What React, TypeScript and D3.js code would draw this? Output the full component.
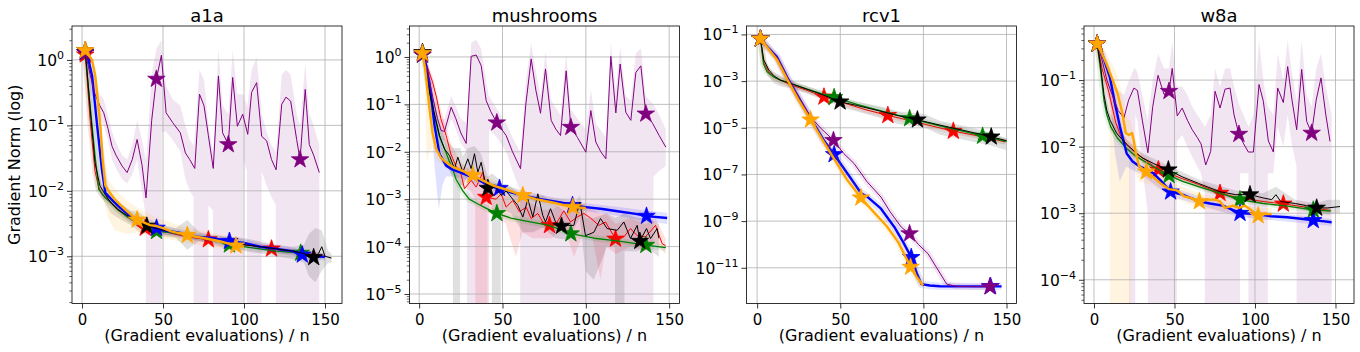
import React, { useEffect, useRef } from "react";
import * as d3 from "d3";

// rows: [x, mean]  bands: [x, lower, upper]  stars: x positions of markers
const FLOOR = 1e-20; // band drops below the visible axis

const panelTitles = ["a1a", "mushrooms", "rcv1", "w8a"];
const xDomains = [[-6.2, 160.5], [-5.8, 156.2], [-6.4, 156], [-6.2, 161.5]];
const yDomains = [[1.9e-4, 3.3], [6.3e-6, 4.5], [2.95e-13, 0.23], [4.4e-5, 0.65]];
const yTickExps = [[0, -1, -2, -3], [0, -1, -2, -3, -4, -5], [-1, -3, -5, -7, -9, -11], [-1, -2, -3, -4]];
const yMinorTicks = [true, true, false, true];
const xTickValues = [0, 50, 100, 150];

// ---------- a1a ----------
const a1aBlack = [[2,1.4],[5,0.18],[8,0.027],[11,0.012],[14,0.009],[18,0.0065],[22,0.0052],[26,0.0045],[30,0.0039],[35,0.0034],[40,0.0029],[45,0.0027],[50,0.0025],[55,0.0024],[60,0.0022],[65,0.0021],[70,0.002],[80,0.0018],[90,0.0016],[100,0.0015],[110,0.0014],[120,0.0013],[130,0.0012],[137,0.0011],[140,0.00105],[143,0.00096],[146,0.0011],[148,0.0014],[150,0.001],[154,0.00094]];
const a1aBlackStars = [2, 40, 143];
const a1aBlackBand = [[2,1.2,1.6],[5,0.12,0.25],[8,0.02,0.035],[12,0.008,0.013],[18,0.0045,0.008],[25,0.0035,0.006],[30,0.003,0.005],[35,0.0024,0.0048],[40,0.0022,0.0038],[45,0.0021,0.0034],[50,0.002,0.003],[58,0.0019,0.0027],[65,0.00126,0.0036],[72,0.0017,0.0024],[80,0.0015,0.0021],[90,0.0013,0.002],[100,0.0012,0.0019],[110,0.0011,0.0017],[120,0.001,0.0015],[130,0.0009,0.0014],[137,0.0008,0.0015],[140,0.0005,0.0022],[144,0.0004,0.0027],[148,0.0006,0.0025],[152,0.0008,0.0012],[154,0.0008,0.0011]];
const a1aRed = [[2,1.2],[5,0.12],[8,0.02],[10,0.012],[12.3,0.0088],[16,0.0075],[20,0.006],[25,0.0046],[30,0.0037],[35,0.0031],[39,0.0027],[45,0.0025],[50,0.0024],[60,0.0021],[70,0.0019],[78,0.0018],[90,0.0016],[100,0.0015],[110,0.0014],[117,0.0013],[125,0.0012],[133,0.00115],[140,0.0011],[150,0.001]];
const a1aRedStars = [2, 39, 78, 117];
const a1aGreen = [[2,1.3],[5,0.2],[8,0.035],[10.3,0.0105],[14,0.008],[18,0.0065],[22,0.0052],[28,0.004],[35,0.0032],[40,0.0029],[46,0.0024],[55,0.0023],[65,0.0021],[75,0.0019],[85,0.0017],[91,0.0015],[100,0.0014],[110,0.0013],[120,0.0012],[130,0.00115],[135,0.00112],[142,0.00105],[148,0.001]];
const a1aGreenStars = [2, 46, 91, 135];
const a1aBlue = [[2,1.3],[4,1.0],[6.2,0.57],[9.3,0.1],[12.3,0.021],[14.4,0.0093],[18,0.0075],[22,0.006],[26,0.0049],[30,0.0041],[35,0.0035],[40,0.003],[46,0.0027],[50,0.0025],[60,0.0023],[70,0.002],[80,0.0019],[91,0.0017],[100,0.0016],[110,0.0014],[120,0.0013],[130,0.0012],[136,0.00105],[142,0.001],[150,0.00098]];
const a1aBlueStars = [2, 46, 91, 136];
const a1aOrange = [[2,1.4],[4,1.2],[6.2,1.0],[8.2,0.57],[10.3,0.18],[11.3,0.1],[12.7,0.03],[14.4,0.012],[17,0.0095],[20,0.0075],[24,0.006],[28,0.0048],[34,0.0036],[38,0.0033],[42,0.003],[46,0.0029],[50,0.0027],[55,0.0024],[65,0.0021],[75,0.0019],[85,0.0017],[95,0.00145],[100,0.0014]];
const a1aOrangeStars = [2, 34, 65, 95];
const a1aOrangeBand = [[2,1.2,1.6],[8,0.3,0.8],[11,0.04,0.2],[13,0.008,0.05],[16,0.004,0.015],[20,0.0025,0.011],[28,0.0022,0.007],[34,0.0023,0.0055],[45,0.002,0.004],[65,0.0016,0.0027],[85,0.0013,0.0022],[100,0.0011,0.0018]];
const a1aPurple = [[2,1.3],[5,0.6],[8,0.3],[11,0.2],[13.4,0.156],[16,0.09],[18.5,0.048],[21,0.035],[24.7,0.024],[27.8,0.019],[31,0.03],[34,0.061],[37,0.025],[39.5,0.0078],[43,0.12],[45.9,0.51],[49,1.18],[51.9,0.156],[56,0.11],[60.7,0.077],[63.8,0.038],[66.5,0.03],[69.6,0.022],[72.5,0.3],[75.3,0.2],[78,0.07],[81,0.022],[84.2,0.57],[86.8,0.077],[90.3,0.051],[93,0.54],[95.9,0.097],[99.2,0.148],[102.3,0.073],[104.7,0.32],[107.8,0.45],[110.9,0.068],[114,0.058],[117,0.03],[119.8,0.021],[123.3,0.21],[125.9,0.27],[128.8,0.235],[132.5,0.061],[134.6,0.03],[137.8,0.355],[140.3,0.051],[143,0.035],[146.5,0.019]];
const a1aPurpleStars = [2, 45.9, 90.3, 134.6];
const a1aPurpleBand = [[2,1.1,1.7],[5,0.4,0.9],[8,0.2,0.45],[11,0.13,0.3],[13.4,0.1,0.25],[16,0.06,0.14],[18.5,0.03,0.08],[21,0.022,0.055],[24.7,0.015,0.035],[27.8,0.013,0.03],[31,0.018,0.05],[34,0.03,0.12],[37,0.01,0.06],[39.4,0.004,0.03],[39.6,FLOOR,0.03],[43,FLOOR,0.6],[45.9,FLOOR,1.5],[49,FLOOR,2.0],[49.2,0.08,1.5],[51.9,0.08,0.4],[56,0.06,0.25],[60.7,0.04,0.2],[63.8,0.015,0.1],[66.5,0.01,0.06],[68.9,0.008,0.05],[69.1,FLOOR,0.05],[72.5,FLOOR,0.7],[75.3,FLOOR,0.5],[77.8,FLOOR,0.12],[78,0.006,0.1],[80.8,0.005,0.04],[81,FLOOR,0.04],[84.2,FLOOR,1.5],[86.8,FLOOR,0.2],[90.3,FLOOR,0.15],[93,FLOOR,1.4],[95.9,FLOOR,0.3],[99.2,FLOOR,0.3],[99.6,0.03,0.3],[101.8,0.02,0.2],[102,FLOOR,0.2],[104.7,FLOOR,0.7],[107.8,FLOOR,1.1],[110.6,FLOOR,0.2],[110.9,0.02,0.15],[114,0.012,0.08],[117,0.008,0.05],[119.6,0.006,0.04],[119.8,FLOOR,0.04],[123.3,FLOOR,0.6],[125.9,FLOOR,0.7],[128.8,FLOOR,0.6],[132.5,FLOOR,0.15],[134.6,FLOOR,0.1],[137.8,FLOOR,0.9],[140.3,FLOOR,0.15],[143,FLOOR,0.1],[146.5,FLOOR,0.05]];

// ---------- mushrooms ----------
const mushBlack = [[2,1.25],[6.2,0.18],[12.2,0.022],[15.2,0.0114],[18.2,0.0083],[21.2,0.0044],[23.2,0.0077],[26.2,0.0037],[29.2,0.0071],[31.2,0.0044],[33.2,0.0091],[35.2,0.0037],[37.2,0.006],[39.8,0.0021],[41.2,0.0017],[45.2,0.002],[49.2,0.0012],[52.2,0.0015],[55.2,0.0011],[59.2,0.00074],[62.2,0.00042],[65.2,0.001],[68.2,0.00042],[71.2,0.0013],[74.2,0.00045],[75.8,0.00033],[78.8,0.00063],[81.8,0.00033],[85.4,0.00027],[88.8,0.00028],[92.8,0.00028],[96.4,0.00087],[99.8,0.00017],[104.8,0.0002],[108.8,0.00039],[112.8,0.00024],[118.8,0.00022],[122.8,0.00033],[126.8,0.000148],[130.8,0.00028],[132.4,0.00013],[136.4,0.00024],[138.8,0.000148],[142.8,0.00024],[143.8,0.00015]];
const mushBlackStars = [2, 41.2, 85.4, 132.4];
const mushBlackBand = [[2,1.0,1.5],[6.2,0.1,0.3],[12.2,0.012,0.04],[15.2,0.006,0.02],[18.2,0.004,0.015],[20.2,0.003,0.012],[20.4,FLOOR,0.012],[24.4,FLOOR,0.012],[24.6,0.002,0.012],[26.2,0.002,0.008],[29.2,0.003,0.012],[33.2,0.004,0.013],[37.2,0.003,0.009],[41.2,0.0008,0.003],[43.6,0.0008,0.0035],[43.8,FLOOR,0.0035],[48.8,FLOOR,0.0025],[49,0.0006,0.0022],[55.2,0.0005,0.0018],[62.2,0.0002,0.0012],[68.2,0.0002,0.0012],[74.2,0.00025,0.0012],[81.8,0.00015,0.0008],[88.8,0.00014,0.0005],[96.4,0.0004,0.0012],[99.8,0.00003,0.0004],[104.8,0.00002,0.0004],[112.8,0.0001,0.0005],[117.5,0.0001,0.0004],[117.7,FLOOR,0.0004],[123,FLOOR,0.0005],[123.2,0.00008,0.0005],[130.8,0.00008,0.0004],[136.4,0.0001,0.0004],[143.8,0.00006,0.0003]];
const mushRed = [[2,1.2],[5,0.6],[8,0.3],[10.2,0.15],[13,0.05],[16.2,0.022],[19,0.009],[22,0.005],[25,0.0035],[27.2,0.00166],[31.2,0.0025],[34.2,0.0018],[38.2,0.0037],[40.2,0.0011],[46.2,0.001],[49.2,0.0013],[52.2,0.00068],[56.2,0.00094],[60.2,0.00054],[64.2,0.00068],[67.2,0.00039],[71.2,0.0005],[74.2,0.00033],[78.2,0.00028],[82.8,0.00033],[86.8,0.00057],[90.8,0.00033],[94.8,0.00042],[98.8,0.0005],[102.8,0.0004],[107.8,0.00028],[111.8,0.00033],[117.8,0.000145],[122.8,0.00016],[126.8,0.00024],[130.8,0.00017],[135.8,0.00016],[141.8,0.00028],[145.8,0.000115],[147.8,0.000105]];
const mushRedStars = [2, 40.2, 78.2, 117.8];
const mushRedBand = [[2,1.0,1.4],[8,0.2,0.4],[13,0.03,0.08],[19,0.005,0.015],[25,0.002,0.006],[31,0.0015,0.004],[33.6,0.001,0.004],[33.8,FLOOR,0.004],[40.8,FLOOR,0.003],[41,0.0006,0.0025],[46,0.0005,0.0018],[52,0.0003,0.0012],[58,0.00006,0.0012],[62,0.0002,0.001],[68,0.00015,0.0008],[74,0.00015,0.0006],[80,0.00015,0.0006],[86.8,0.0003,0.0009],[92.8,0.00006,0.0006],[98.8,0.0002,0.0008],[104,0.00015,0.0006],[108.8,0.00002,0.0005],[112,0.0001,0.0005],[118,0.00007,0.0003],[126.8,0.0001,0.0004],[135.8,0.00008,0.0003],[141.8,0.00012,0.0004],[147.8,0.00007,0.00015]];
const mushGreen = [[2,1.1],[4,0.5],[6.2,0.18],[9,0.06],[12,0.022],[15,0.012],[18,0.0065],[20.2,0.0042],[22.2,0.0026],[26.2,0.0015],[30,0.001],[35,0.0008],[40,0.00065],[46.6,0.0005],[55,0.0004],[65,0.00034],[78,0.00028],[91,0.000187],[105,0.00015],[120,0.00013],[136,0.000107],[148,0.000095]];
const mushGreenStars = [2, 46.6, 91, 136];
const mushBlue = [[2,1.2],[4,0.7],[6,0.3],[7.5,0.12],[9.2,0.036],[12.2,0.009],[16.2,0.0051],[20,0.0042],[24.2,0.0037],[28,0.0033],[32,0.0029],[36,0.0025],[40,0.0021],[44,0.0019],[48.2,0.0017],[55,0.0014],[62,0.0012],[72.8,0.001],[85,0.00085],[92,0.00074],[100,0.00068],[110,0.00062],[120,0.00055],[130,0.00049],[136.4,0.00044],[148.8,0.0004]];
const mushBlueStars = [2, 48.2, 92, 136.4];
const mushBlueBand = [[2,1.0,1.4],[4,0.5,0.9],[6,0.15,0.5],[7.5,0.04,0.3],[9.2,0.005,0.1],[11.8,0.0006,0.03],[14,0.002,0.012],[16.2,0.003,0.008],[20,0.003,0.0055],[28,0.0026,0.004],[40,0.0017,0.0026],[48,0.0014,0.0021],[62,0.001,0.0015],[80,0.0008,0.0011],[100,0.00056,0.00082],[120,0.00044,0.00068],[136,0.00034,0.00058],[148.8,0.0003,0.00052]];
const mushOrange = [[2,1.2],[3.5,0.6],[5,0.2],[6.2,0.08],[8,0.025],[10.2,0.0116],[13,0.0075],[16.2,0.006],[20,0.0048],[25,0.0041],[32.2,0.0032],[38,0.0025],[45,0.0019],[52,0.0016],[62.2,0.0012],[70,0.001],[80,0.00085],[92.2,0.00068],[100,0.00065]];
const mushOrangeStars = [2, 32.2, 62.2, 92.2];
const mushOrangeBand = [[2,1.0,1.4],[3.5,0.3,0.9],[4.4,0.006,0.6],[6.2,0.01,0.3],[8,0.012,0.06],[10.2,0.007,0.02],[16,0.0045,0.008],[32,0.0027,0.0038],[62,0.001,0.0015],[92,0.00055,0.00085],[100,0.00052,0.0008]];
const mushPurple = [[2,1.1],[5,0.5],[8.2,0.14],[11,0.05],[13.2,0.028],[15.2,0.027],[19.2,0.087],[22,0.05],[25,0.025],[28.2,0.015],[31.2,1.03],[34.2,1.1],[37.2,0.66],[40.2,0.12],[43,0.07],[46.6,0.041],[52.2,0.022],[56,0.01],[60.8,0.0044],[64,0.1],[67.2,0.91],[70,0.2],[72.8,0.065],[75.8,0.56],[79.2,0.046],[82,0.03],[84.8,0.022],[88.2,0.51],[91,0.033],[95,0.02],[100,0.0098],[103,0.074],[106,0.016],[109,0.01],[112,0.0071],[115,1.03],[118,0.066],[120.6,0.71],[124,0.068],[127,0.046],[130,0.47],[133,0.65],[136,0.063],[140,0.04],[144,0.022],[148,0.0125]];
const mushPurpleStars = [2, 46.6, 91, 136];
const mushPurpleBand = [[2,0.8,1.5],[5,0.3,0.8],[8.2,0.08,0.25],[11,0.03,0.09],[13.2,0.018,0.05],[15.2,0.017,0.05],[19.2,0.05,0.15],[22,0.03,0.09],[25,0.015,0.05],[28.6,0.01,0.04],[28.8,FLOOR,0.05],[31.2,FLOOR,2.0],[34.2,FLOOR,2.3],[37.2,FLOOR,1.5],[40.2,FLOOR,0.3],[41.8,FLOOR,0.15],[42,0.03,0.15],[46.6,0.02,0.08],[52.2,0.01,0.04],[56,0.004,0.02],[60.6,0.0015,0.01],[60.8,FLOOR,0.01],[64,FLOOR,0.3],[67.2,FLOOR,2.0],[70,FLOOR,0.5],[72.8,FLOOR,0.15],[75.8,FLOOR,1.3],[79.2,FLOOR,0.12],[84.8,FLOOR,0.06],[88.2,FLOOR,1.2],[91,FLOOR,0.08],[95,FLOOR,0.05],[100,FLOOR,0.03],[103,FLOOR,0.2],[106,FLOOR,0.04],[112,FLOOR,0.02],[115,FLOOR,2.0],[118,FLOOR,0.2],[120.6,FLOOR,1.6],[124,FLOOR,0.15],[127,FLOOR,0.12],[130,FLOOR,1.2],[133,FLOOR,1.5],[136,FLOOR,0.15],[140.4,FLOOR,0.1],[140.6,0.003,0.1],[144,0.004,0.06],[148,0.005,0.03]];

// ---------- rcv1 ----------
const rcvBlack = [[2,0.065],[4,0.008],[7,0.003],[10,0.0017],[14,0.0011],[20,0.0008],[30,0.00045],[40,0.00025],[49.9,0.00013],[60,0.00009],[75,0.00005],[85,0.000033],[96.4,0.000022],[110,0.000013],[125,0.0000075],[140.8,0.0000041],[150,0.0000028]];
const rcvBlackStars = [2, 49.9, 96.4, 140.8];
const rcvBlackBand = [[2,0.05,0.08],[4,0.004,0.012],[7,0.0015,0.004],[10,0.0008,0.0025],[14,0.0006,0.0017],[20,0.0005,0.0011],[30,0.0003,0.0006],[40,0.00016,0.00035],[50,0.00008,0.0002],[60,0.00005,0.00013],[75,0.000025,0.00008],[85,0.000014,0.00005],[100,0.0000107,0.00004],[110,0.000005,0.00002],[125,0.000003,0.000012],[140,0.0000018,0.0000065],[150,0.0000011,0.0000035]];
const rcvRed = [[2,0.065],[4,0.006],[6.9,0.0025],[10,0.0015],[13.9,0.0011],[20,0.0007],[30,0.0004],[40.2,0.00021],[55,0.0001],[65,0.00006],[78.6,0.000034],[95,0.000018],[105,0.000012],[118,0.0000072],[135,0.0000042],[149.3,0.0000025]];
const rcvRedStars = [2, 40.2, 78.6, 118];
const rcvGreen = [[2,0.065],[3.8,0.0057],[6,0.0025],[9.9,0.0015],[14,0.0011],[20,0.0008],[30,0.00045],[40,0.00027],[46.3,0.0002],[60,0.0001],[75,0.000052],[91.7,0.000025],[110,0.000012],[125,0.0000068],[135.6,0.0000044],[150,0.0000026]];
const rcvGreenStars = [2, 46.3, 91.7, 135.6];
const rcvBlue = [[2,0.065],[6,0.03],[11.9,0.011],[18,0.0015],[26,1.5e-4],[34.1,1.5e-5],[40,3e-6],[46.3,7.2e-7],[54.4,1.07e-7],[62.4,1.6e-8],[66.5,1.07e-8],[74.5,3.4e-9],[82.6,5.5e-10],[88,1.2e-10],[92.7,2.8e-11],[96,6e-12],[98.8,2e-12],[103.8,1.74e-12],[110,1.62e-12],[120,1.6e-12],[130,1.6e-12],[140.4,1.6e-12],[147,1.6e-12]];
const rcvBlueStars = [2, 46.3, 92.7, 140.4];
const rcvOrange = [[2,0.065],[6,0.028],[12,0.008],[18,0.0012],[25,1.5e-4],[32.1,2.2e-5],[40,2.5e-6],[46,5e-7],[54,6e-8],[62.4,1e-8],[70,2.5e-9],[78,6e-10],[85,1.2e-10],[92.3,1.07e-11],[96,4e-12],[99.8,1.74e-12]];
const rcvOrangeStars = [2, 32.1, 62.4, 92.3];
const rcvPurple = [[2,0.065],[6,0.03],[12,0.01],[18,0.0015],[25,2e-4],[32,3e-5],[38,1e-5],[45.9,2.9e-6],[52,8e-7],[58.4,2.9e-7],[66,5e-8],[74.5,1.07e-8],[80,2.5e-9],[86.7,5.5e-10],[91.7,2.9e-10],[97,1e-10],[102.8,4e-11],[108,1e-11],[114,2e-12],[120,1.6e-12],[130,1.55e-12],[140,1.55e-12],[143,1.55e-12]];
const rcvPurpleStars = [2, 45.9, 91.7, 140];

// ---------- w8a ----------
const w8aBlack = [[2,0.35],[4,0.17],[6.2,0.06],[8,0.035],[10,0.025],[14,0.016],[20,0.011],[26.5,0.0079],[30,0.0068],[36.8,0.0056],[46.2,0.0045],[55,0.0035],[65,0.0028],[78.3,0.0021],[88,0.0019],[96.9,0.0019],[105,0.0017],[110.4,0.0016],[113,0.0019],[116,0.0015],[125,0.0014],[132,0.0013],[138.3,0.0012],[145,0.0012],[152.8,0.00126]];
const w8aBlackStars = [2, 46.2, 96.9, 138.3];
const w8aBlackBand = [[2,0.3,0.4],[6.2,0.04,0.08],[10,0.018,0.032],[20,0.009,0.013],[30,0.0058,0.008],[46,0.0038,0.0052],[65,0.0024,0.0032],[88,0.0016,0.0022],[105,0.0014,0.002],[113,0.0015,0.0025],[125,0.0012,0.0016],[138,0.001,0.0014],[145,0.00095,0.0016],[152.8,0.001,0.0016]];
const w8aRed = [[2,0.35],[5,0.15],[9.3,0.065],[13.5,0.023],[16.6,0.0145],[20,0.011],[26,0.008],[32,0.0063],[40,0.0045],[46,0.004],[55,0.0033],[65,0.0027],[78.3,0.002],[90,0.0017],[105,0.0015],[117.6,0.00138],[130,0.00125],[140,0.00116],[147,0.0011]];
const w8aRedStars = [2, 40, 78.3, 117.6];
const w8aGreen = [[2,0.35],[4,0.15],[6.2,0.05],[8,0.03],[10.4,0.02],[14.5,0.0135],[20,0.0095],[26,0.0072],[35,0.0053],[46.6,0.0037],[55,0.003],[65,0.0025],[78,0.002],[90.7,0.0016],[105,0.0014],[120,0.00128],[136.2,0.00112],[147,0.00108]];
const w8aGreenStars = [2, 46.6, 90.7, 136.2];
const w8aBlue = [[2,0.35],[5,0.25],[7,0.18],[9.9,0.11],[13,0.045],[16.1,0.02],[20.3,0.0079],[24,0.006],[28.6,0.005],[32,0.0046],[36.8,0.004],[42,0.003],[47.6,0.0021],[55,0.0019],[60,0.0017],[65.8,0.0015],[72,0.0014],[80,0.0013],[90.7,0.001],[100,0.00098],[110,0.0009],[120,0.00087],[130,0.00082],[136.2,0.00078],[142,0.00076],[147.6,0.00073]];
const w8aBlueStars = [2, 47.6, 90.7, 136.2];
const w8aBlueBand = [[2,0.3,0.4],[7,0.12,0.25],[10,0.05,0.15],[13,0.008,0.07],[16,0.003,0.03],[20,0.005,0.011],[28,0.004,0.006],[47.6,0.0018,0.0025],[90,0.00088,0.00115],[147.6,0.00064,0.00082]];
const w8aOrange = [[2,0.35],[5,0.25],[8,0.17],[11,0.11],[14.5,0.065],[17.6,0.032],[19.7,0.016],[21.7,0.015],[23.7,0.016],[24.8,0.012],[25.9,0.0081],[28,0.0051],[32.5,0.0042],[37.3,0.0034],[41.4,0.0028],[46.6,0.0023],[51.7,0.0022],[55.9,0.0018],[60,0.0017],[65.5,0.0015],[70,0.0016],[75.2,0.0016],[78.3,0.0015],[81.4,0.0012],[86.5,0.0013],[90,0.0012],[93.8,0.0013],[98,0.0011],[102,0.00092],[106,0.00097],[110.4,0.00097]];
const w8aOrangeStars = [2, 32.5, 65.5, 102];
const w8aOrangeBand = [[2,0.3,0.4],[5,0.15,0.35],[8,0.08,0.25],[9.8,0.05,0.2],[10,FLOOR,0.2],[14.5,FLOOR,0.12],[17.6,FLOOR,0.06],[19.7,FLOOR,0.03],[22.4,FLOOR,0.025],[22.6,0.006,0.025],[25.9,0.004,0.012],[28,0.003,0.008],[37,0.0026,0.0045],[47,0.0018,0.003],[65,0.0012,0.002],[86,0.001,0.0015],[102,0.0008,0.0012],[110.4,0.0008,0.0012]];
const w8aPurple = [[2,0.35],[5,0.2],[8,0.1],[12.4,0.051],[15,0.035],[18.6,0.027],[21.5,0.05],[24.8,0.076],[27,0.07],[30,0.025],[33.5,0.0081],[36.5,0.04],[39.8,0.118],[43.5,0.061],[46.6,0.068],[48.6,0.15],[51.7,0.029],[54.8,0.038],[58,0.025],[61,0.018],[64.2,0.0137],[66.5,0.011],[69.4,0.0053],[72.5,0.0085],[75.2,0.068],[78.3,0.038],[81.4,0.073],[84.5,0.076],[87,0.03],[90,0.0154],[93,0.011],[95.9,0.0083],[99,0.0083],[102.5,0.086],[105.2,0.048],[108.3,0.0122],[111.4,0.0083],[114.1,0.076],[117.6,0.046],[120.3,0.16],[123,0.05],[125.9,0.018],[129,0.145],[132.1,0.024],[135.2,0.016],[138,0.05],[141,0.108],[144,0.03],[146.6,0.012]];
const w8aPurpleStars = [2, 46.6, 90, 135.2];
const w8aPurpleBand = [[2,0.28,0.45],[5,0.12,0.3],[8,0.06,0.18],[12.4,0.03,0.09],[15,0.015,0.07],[18.6,0.01,0.06],[21.8,0.01,0.1],[22,FLOOR,0.1],[24.8,FLOOR,0.15],[25.5,FLOOR,0.15],[25.7,0.03,0.15],[27,0.025,0.13],[30,0.005,0.06],[33.4,0.001,0.025],[33.6,FLOOR,0.03],[36.5,FLOOR,0.1],[39.8,FLOOR,0.25],[43.5,FLOOR,0.15],[46.6,FLOOR,0.15],[48.6,FLOOR,0.38],[51.3,FLOOR,0.08],[51.5,0.012,0.08],[54.8,0.015,0.08],[58,0.01,0.06],[61,0.007,0.04],[64.2,0.005,0.03],[66.5,0.004,0.025],[68.8,0.002,0.02],[69,FLOOR,0.02],[72.5,FLOOR,0.03],[75.2,FLOOR,0.15],[78.3,FLOOR,0.08],[81.4,FLOOR,0.15],[84.5,FLOOR,0.15],[87,FLOOR,0.08],[90.5,FLOOR,0.04],[90.7,0.004,0.04],[95.9,0.004,0.02],[96.1,FLOOR,0.02],[99,FLOOR,0.03],[102.5,FLOOR,0.4],[105.2,FLOOR,0.1],[107.8,FLOOR,0.04],[108,0.004,0.04],[111.4,0.004,0.03],[114.1,0.02,0.25],[117.6,0.01,0.1],[120.3,0.03,0.4],[122.6,0.012,0.15],[125.8,0.005,0.05],[126,FLOOR,0.05],[129,FLOOR,0.4],[132.1,FLOOR,0.06],[135.2,FLOOR,0.04],[138,FLOOR,0.15],[141,FLOOR,0.25],[144,FLOOR,0.08],[147.6,FLOOR,0.03]];

// ---------- assembly ----------
const panelData = [
  {
    lines: { black: a1aBlack, red: a1aRed, green: a1aGreen, blue: a1aBlue, orange: a1aOrange, purple: a1aPurple },
    stars: { black: a1aBlackStars, red: a1aRedStars, green: a1aGreenStars, blue: a1aBlueStars, orange: a1aOrangeStars, purple: a1aPurpleStars },
    bands: { black: a1aBlackBand, orange: a1aOrangeBand, purple: a1aPurpleBand },
  },
  {
    lines: { black: mushBlack, red: mushRed, green: mushGreen, blue: mushBlue, orange: mushOrange, purple: mushPurple },
    stars: { black: mushBlackStars, red: mushRedStars, green: mushGreenStars, blue: mushBlueStars, orange: mushOrangeStars, purple: mushPurpleStars },
    bands: { black: mushBlackBand, red: mushRedBand, blue: mushBlueBand, orange: mushOrangeBand, purple: mushPurpleBand },
  },
  {
    lines: { black: rcvBlack, red: rcvRed, green: rcvGreen, blue: rcvBlue, orange: rcvOrange, purple: rcvPurple },
    stars: { black: rcvBlackStars, red: rcvRedStars, green: rcvGreenStars, blue: rcvBlueStars, orange: rcvOrangeStars, purple: rcvPurpleStars },
    bands: { black: rcvBlackBand },
  },
  {
    lines: { black: w8aBlack, red: w8aRed, green: w8aGreen, blue: w8aBlue, orange: w8aOrange, purple: w8aPurple },
    stars: { black: w8aBlackStars, red: w8aRedStars, green: w8aGreenStars, blue: w8aBlueStars, orange: w8aOrangeStars, purple: w8aPurpleStars },
    bands: { black: w8aBlackBand, blue: w8aBlueBand, orange: w8aOrangeBand, purple: w8aPurpleBand },
  },
];

const DRAW_ORDER = ["red", "green", "blue", "black", "purple", "orange"];
const LINE_W: any = { black: 1, red: 1, green: 1.3, blue: 2.4, orange: 2.4, purple: 1 };

const PANEL_LEFT = [72, 409.5, 746.5, 1084];
const PANEL_W = 270;
const PANEL_TOP = 26;
const PANEL_BOTTOM = 303.5;

function App() {
  const ref = useRef<SVGSVGElement>(null);

  useEffect(() => {
    const svg = d3.select(ref.current);
    svg.selectAll("*").remove();

    panelData.forEach((p: any, i) => {
      const left = PANEL_LEFT[i];
      const right = left + PANEL_W;
      const x = d3.scaleLinear().domain(xDomains[i]).range([left, right]);
      const y = d3.scaleLog().domain(yDomains[i]).range([PANEL_BOTTOM, PANEL_TOP]);
      const g = svg.append("g");

      g.append("clipPath").attr("id", "clip" + i)
        .append("rect").attr("x", left).attr("y", PANEL_TOP)
        .attr("width", PANEL_W).attr("height", PANEL_BOTTOM - PANEL_TOP);
      const plot = g.append("g").attr("clip-path", `url(#clip${i})`);

      // shaded bands (std) under everything
      const area = d3.area<any>().x(d => x(d[0])).y0(d => y(d[1])).y1(d => y(d[2]));
      DRAW_ORDER.forEach(c => {
        const band = p.bands[c];
        if (!band) return;
        plot.append("path").attr("d", area(band))
          .attr("fill", c).attr("fill-opacity", c === "purple" ? 0.1 : 0.12).attr("stroke", "none");
      });

      // grid
      const majors = yTickExps[i].map(e => Math.pow(10, e));
      plot.selectAll(".gx").data(xTickValues).join("line")
        .attr("x1", d => x(d)).attr("x2", d => x(d))
        .attr("y1", PANEL_TOP).attr("y2", PANEL_BOTTOM)
        .attr("stroke", "#b0b0b0").attr("stroke-width", 0.8);
      plot.selectAll(".gy").data(majors).join("line")
        .attr("x1", left).attr("x2", right)
        .attr("y1", d => y(d)).attr("y2", d => y(d))
        .attr("stroke", "#b0b0b0").attr("stroke-width", 0.8);

      // lines, soft halo, star markers
      const line = d3.line<any>().x(d => x(d[0])).y(d => y(d[1]));
      const star = d3.symbol().type(d3.symbolStar).size(95);
      DRAW_ORDER.forEach(c => {
        const rows = p.lines[c];
        if (!p.bands[c]) {
          plot.append("path").attr("d", line(rows)).attr("fill", "none")
            .attr("stroke", c).attr("stroke-opacity", 0.1)
            .attr("stroke-width", LINE_W[c] + 5).attr("stroke-linejoin", "round");
        }
        plot.append("path").attr("d", line(rows)).attr("fill", "none")
          .attr("stroke", c).attr("stroke-width", LINE_W[c]).attr("stroke-linejoin", "round");
        const pts = p.stars[c].map((sx: number) => d3.least(rows, (r: any) => Math.abs(r[0] - sx)));
        plot.selectAll(null).data(pts).join("path")
          .attr("d", star())
          .attr("transform", (d: any) => `translate(${x(d[0])},${y(d[1])})`)
          .attr("fill", c).attr("stroke", c).attr("stroke-width", 0.8);
      });

      // x axis
      const xAxis = d3.axisBottom(x).tickValues(xTickValues).tickSize(5).tickPadding(5.5).tickFormat(d3.format("d"));
      const gx = g.append("g").attr("transform", `translate(0,${PANEL_BOTTOM})`).call(xAxis);
      gx.select(".domain").remove();
      gx.selectAll("text").attr("font-size", 15).attr("font-family", "DejaVu Sans").attr("fill", "#000");
      gx.selectAll("line").attr("stroke", "#000").attr("stroke-width", 0.8);

      // y axis, major
      const yAxis = d3.axisLeft(y).tickValues(majors).tickSize(5).tickFormat(() => "");
      const gy = g.append("g").attr("transform", `translate(${left},0)`).call(yAxis);
      gy.select(".domain").remove();
      gy.selectAll("line").attr("stroke", "#000").attr("stroke-width", 0.8);

      if (yMinorTicks[i]) {
        const [lo, hi] = yDomains[i];
        const minors: number[] = [];
        for (let e = Math.floor(Math.log10(lo)); e <= Math.ceil(Math.log10(hi)); e++) {
          for (let k = 2; k <= 9; k++) {
            const v = k * Math.pow(10, e);
            if (v >= lo && v <= hi) minors.push(v);
          }
        }
        const gm = g.append("g").attr("transform", `translate(${left},0)`)
          .call(d3.axisLeft(y).tickValues(minors).tickSize(2.7).tickFormat(() => ""));
        gm.select(".domain").remove();
        gm.selectAll("line").attr("stroke", "#000").attr("stroke-width", 0.6);
      }

      yTickExps[i].forEach(e => {
        const t = g.append("text")
          .attr("x", left - 8).attr("y", y(Math.pow(10, e)) + 6)
          .attr("text-anchor", "end").attr("font-size", 15.5);
        t.append("tspan").text("10");
        t.append("tspan").attr("dy", -7).attr("font-size", 11)
          .text(e === 0 ? "0" : "\u2212" + Math.abs(e));
      });

      // frame
      g.append("rect").attr("x", left).attr("y", PANEL_TOP)
        .attr("width", PANEL_W).attr("height", PANEL_BOTTOM - PANEL_TOP)
        .attr("fill", "none").attr("stroke", "#000").attr("stroke-width", 0.8);

      // title and x label
      g.append("text").attr("x", (left + right) / 2).attr("y", 21.5)
        .attr("text-anchor", "middle").attr("font-size", 18).text(panelTitles[i]);
      g.append("text").attr("x", (left + right) / 2).attr("y", 341)
        .attr("text-anchor", "middle").attr("font-size", 16).text("(Gradient evaluations) / n");
    });

    svg.append("text")
      .attr("transform", `translate(19.5,${(PANEL_TOP + PANEL_BOTTOM) / 2}) rotate(-90)`)
      .attr("text-anchor", "middle").attr("font-size", 16).text("Gradient Norm (log)");
  }, []);

  return (
    <svg
      ref={ref}
      width={1360}
      height={352}
      style={{ position: "absolute", left: 0, top: 0, background: "#fff", fontFamily: "'DejaVu Sans', sans-serif" }}
    />
  );
}

export default App;
